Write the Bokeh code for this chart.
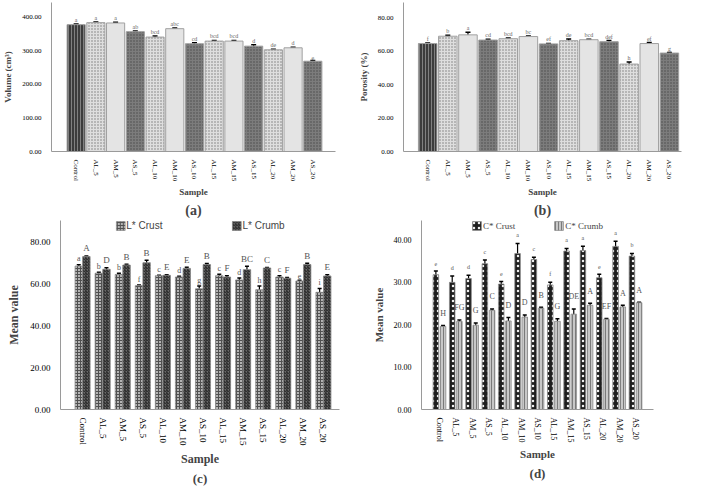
from bokeh.plotting import figure
from bokeh.layouts import column, row
from bokeh.models import (ColumnDataSource, Range1d, FixedTicker, NumeralTickFormatter,
                          Whisker, TeeHead, Title, Legend, LegendItem)
from bokeh.core.properties import value
from bokeh.embed import file_html
from bokeh.resources import INLINE

samples = ["Control", "AL_5", "AM_5", "AS_5", "AL_10", "AM_10", "AS_10",
           "AL_15", "AM_15", "AS_15", "AL_20", "AM_20", "AS_20"]

volume = [378, 384, 383, 357, 341, 366, 321, 329, 329, 314, 303, 309, 269]
volume_err = [2, 2, 2, 2, 3, 2, 3, 2, 2, 4, 2, 2, 2]
volume_grp = ["a", "a", "a", "ab", "bcd", "abc", "cd", "bcd", "bcd", "d", "de", "d", "e"]

porosity = [64.7, 69.1, 69.9, 66.8, 67.6, 68.9, 64.5, 66.4, 67.0, 65.8, 52.4, 64.7, 59.0]
porosity_err = [0.4, 0.5, 1.5, 0.5, 0.4, 0.3, 0.3, 1.0, 0.3, 0.7, 1.3, 0.6, 0.3]
porosity_grp = ["f", "b", "a", "cd", "bcd", "bc", "ef", "de", "bcd", "def", "h", "ef", "g"]

l_crust = [68.3, 64.9, 64.3, 59.0, 63.7, 63.1, 57.5, 63.7, 61.7, 57.0, 63.1, 61.2, 55.8]
l_crust_err = [0.6, 0.5, 0.6, 0.3, 0.2, 0.4, 1.3, 0.7, 0.9, 1.8, 0.6, 0.3, 1.8]
l_crust_grp = ["a", "b", "b", "f", "c", "d", "g", "c", "d", "h", "c", "e", "i"]
l_crumb = [72.8, 66.8, 68.8, 69.9, 63.9, 67.2, 69.0, 63.1, 66.6, 67.4, 62.5, 69.0, 63.6]
l_crumb_err = [0.3, 0.7, 0.4, 1.2, 0.3, 0.5, 0.5, 0.6, 1.6, 0.2, 0.3, 0.6, 0.6]
l_crumb_grp = ["A", "D", "B", "B", "E", "E", "B", "F", "BC", "C", "F", "B", "E"]

c_crust = [31.8, 30.0, 30.9, 34.4, 29.6, 36.8, 35.4, 29.4, 37.4, 37.5, 31.1, 38.5, 36.2]
c_crust_err = [0.9, 1.5, 0.8, 0.9, 0.6, 2.4, 0.5, 0.6, 0.6, 1.0, 0.8, 1.2, 0.6]
c_crust_grp = ["e", "d", "d", "c", "e", "a", "c", "f", "a", "a", "e", "a", "b"]
c_crumb = [19.6, 20.8, 19.9, 23.4, 20.9, 21.8, 23.9, 20.8, 22.5, 24.6, 21.3, 24.2, 25.2]
c_crumb_err = [0.2, 0.3, 0.5, 0.3, 0.8, 0.5, 0.2, 0.6, 1.2, 0.5, 0.2, 0.4, 0.1]
c_crumb_grp = ["H", "FG", "G", "C", "D", "D", "B", "G", "DE", "A", "EF", "A", "A"]

SERIF = "Liberation Serif"
SANS = "Liberation Sans"

# bar look per sample type in panels (a) and (b)
type_style = {
    "Control": ("#3c3c3c", "vertical_line", "#808080"),
    "AL": ("#dedede", "dot", "#7a7a7a"),
    "AM": ("#e4e4e4", "blank", "#e4e4e4"),
    "AS": ("#7c7c7c", "dot", "#4a4a4a"),
}


def base_fig(w, h, xr, yr, ticks, ylabel, caption, tick_px, lab_px, cap_px, mb_left, mb_right):
    p = figure(width=w, height=h, x_range=Range1d(*xr), y_range=Range1d(*yr),
               output_backend="svg", toolbar_location=None,
               min_border_left=mb_left, min_border_right=mb_right,
               min_border_top=2, min_border_bottom=0)
    p.outline_line_color = None
    p.grid.grid_line_color = None
    p.background_fill_color = "white"

    p.yaxis.ticker = FixedTicker(ticks=ticks)
    p.yaxis.formatter = NumeralTickFormatter(format="0.00")
    p.yaxis.axis_label = ylabel
    p.xaxis.ticker = FixedTicker(ticks=list(range(len(samples))))
    p.xaxis.major_label_overrides = {i: s for i, s in enumerate(samples)}
    p.xaxis.major_label_orientation = "vertical"
    p.xaxis.axis_label = "Sample"
    for ax in (p.xaxis, p.yaxis):
        ax.axis_line_color = "#9a9a9a"
        ax.major_tick_line_color = None
        ax.minor_tick_line_color = None
        ax.major_label_text_font = SERIF
        ax.major_label_text_font_size = tick_px
        ax.major_label_text_color = "black"
        ax.axis_label_text_font = SERIF
        ax.axis_label_text_font_style = "bold"
        ax.axis_label_text_font_size = lab_px
    p.yaxis.axis_label_standoff = 6
    p.xaxis.axis_label_standoff = 3
    p.yaxis.major_label_standoff = 4
    p.xaxis.major_label_standoff = 2
    p.add_layout(Title(text=caption, align="center", text_font=SERIF, standoff=1,
                       text_font_size=cap_px, text_font_style="bold"), "below")
    return p


def add_errors(p, src, head):
    p.add_layout(Whisker(source=src, base="x", upper="upper", lower="lower",
                         line_color="black", line_width=1.2,
                         upper_head=TeeHead(size=head, line_color="black", line_width=1.5),
                         lower_head=TeeHead(size=head, line_color="black", line_width=1.5)))


def single_panel(vals, errs, grps, w, h, xr, yr, ticks, ylabel, caption, off, mb_left, mb_right):
    p = base_fig(w, h, xr, yr, ticks, ylabel, caption, "7px", "9px", "14px", mb_left, mb_right)
    kinds = [s.split("_")[0] for s in samples]
    src = ColumnDataSource(dict(
        x=list(range(len(samples))), top=vals,
        upper=[v + e for v, e in zip(vals, errs)],
        lower=[v - e for v, e in zip(vals, errs)],
        ly=[v + e + off for v, e in zip(vals, errs)],
        grp=grps,
        fill=[type_style[k][0] for k in kinds],
        hatch=[type_style[k][1] for k in kinds],
        hcol=[type_style[k][2] for k in kinds],
    ))
    p.vbar(x="x", top="top", width=0.92, bottom=0, source=src,
           fill_color="fill", line_color="#a0a0a0", line_width=1,
           hatch_pattern="hatch", hatch_color="hcol", hatch_scale=3, hatch_weight=1)
    add_errors(p, src, 5)
    p.text(x="x", y="ly", text="grp", source=src, text_align="center",
           text_baseline="bottom", text_font=value(SERIF),
           text_font_size=value("6px"), text_color=value("#666666"))
    return p


def pair_panel(v1, e1, g1, v2, e2, g2, names, styles, w, h, xr, yr, ticks, caption,
               half, bw, offs, tick_px, lab_px, let_px, leg_font, leg_px, leg_sp,
               mb_left, mb_right):
    p = base_fig(w, h, xr, yr, ticks, "Mean value", caption, tick_px, lab_px, "13px",
                 mb_left, mb_right)
    items = []
    for k, (vals, errs, grps, shift) in enumerate([(v1, e1, g1, -half), (v2, e2, g2, half)]):
        fill, hatch, hcol, hscale = styles[k]
        src = ColumnDataSource(dict(
            x=[i + shift for i in range(len(samples))], top=vals,
            upper=[v + e for v, e in zip(vals, errs)],
            lower=[v - e for v, e in zip(vals, errs)],
            ly=[v + e + offs[k] for v, e in zip(vals, errs)],
            grp=grps))
        r = p.vbar(x="x", top="top", width=bw, bottom=0, source=src,
                   fill_color=fill, line_color="#8a8a8a", line_width=0.8,
                   hatch_pattern=hatch, hatch_color=hcol, hatch_scale=hscale, hatch_weight=1)
        items.append(LegendItem(label=names[k], renderers=[r]))
        add_errors(p, src, 4)
        p.text(x="x", y="ly", text="grp", source=src, text_align="center",
               text_baseline="bottom", text_font=value(SERIF),
               text_font_size=value(let_px[k]), text_color=value("#555555"))
    leg = Legend(items=items, orientation="horizontal", location="top_center",
                 label_text_font=leg_font, label_text_font_size=leg_px,
                 glyph_width=11, glyph_height=11, spacing=leg_sp, padding=2, margin=0,
                 label_standoff=1, border_line_color=None, background_fill_alpha=0)
    p.add_layout(leg, "center")
    return p


pa = single_panel(volume, volume_err, volume_grp, 345, 218, (-1.25, 13.15), (0, 444),
                  [0, 100, 200, 300, 400], "Volume (cm³)", "(a)", 3, 30, 10)
pb = single_panel(porosity, porosity_err, porosity_grp, 348, 218, (-1.2, 12.6), (0, 89.3),
                  [0, 20, 40, 60, 80], "Porosity (%)", "(b)", 0.6, 58, 12)

pc = pair_panel(l_crust, l_crust_err, l_crust_grp, l_crumb, l_crumb_err, l_crumb_grp,
                ["L* Crust", "L* Crumb"],
                [("#b4b4b4", "cross", "#505050", 3), ("#6a6a6a", "right_diagonal_line", "#1e1e1e", 3)],
                345, 268, (-1.1, 12.8), (0, 90), [0, 20, 40, 60, 80], "(c)",
                0.19, 0.37, (0.7, 1.2), "9px", "12px", ("8px", "9px"), SANS, "10px", 68, 60, 6)
pd_ = pair_panel(c_crust, c_crust_err, c_crust_grp, c_crumb, c_crumb_err, c_crumb_grp,
                 ["C* Crust", "C* Crumb"],
                 [("#1e1e1e", "dot", "#f0f0f0", 5), ("#c8c8c8", "vertical_line", "#7a7a7a", 3)],
                 348, 268, (-1.1, 13.1), (0, 44.6), [0, 10, 20, 30, 40], "(d)",
                 0.22, 0.34, (1.2, 1.8), "8px", "11px", ("6px", "8px"), SERIF, "9px", 38, 76, 40)

layout = column(row(pa, pb), row(pc, pd_))
open("out.html", "w").write(file_html(layout, INLINE))
